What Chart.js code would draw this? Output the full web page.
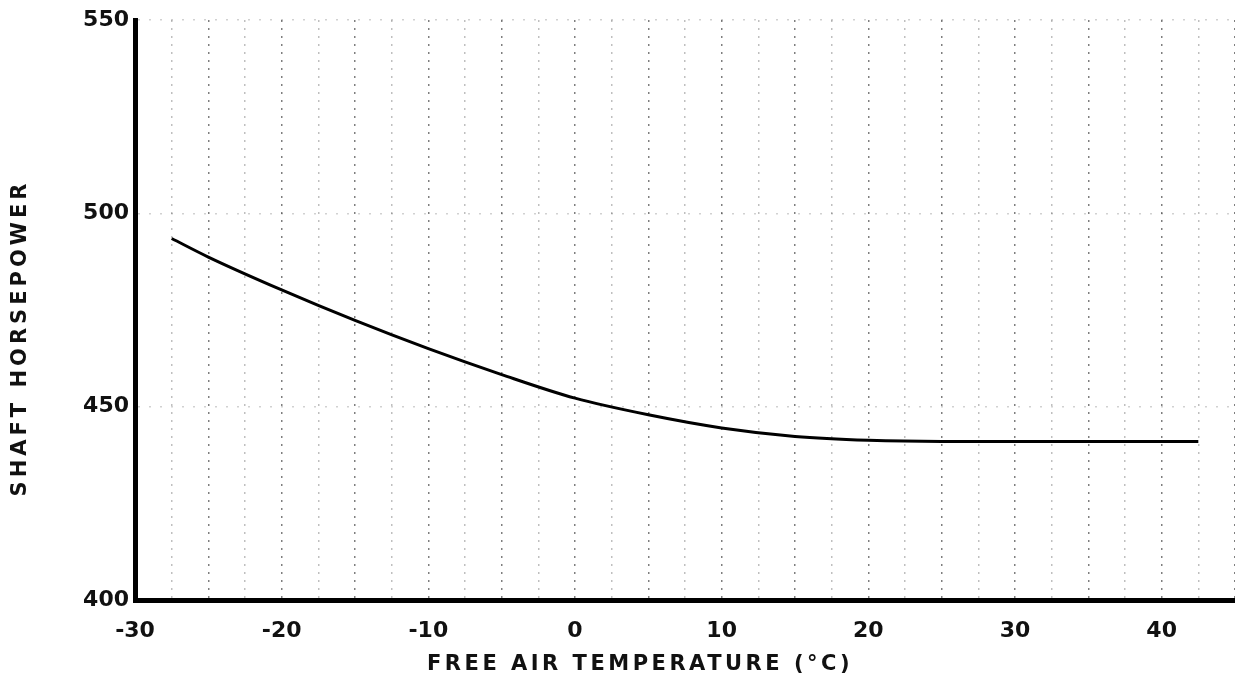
<!DOCTYPE html>
<html>
<head>
<meta charset="utf-8">
<script src="https://cdn.jsdelivr.net/npm/chart.js@4"></script>
<style>
  html, body { margin: 0; padding: 0; background: #fff; }
</style>
</head>
<body>
<canvas id="shpChart" width="1235" height="690"></canvas>
<script>
// shaft horsepower against free air temperature
const temps = [-27.5, -25, -20, -15, -10, -5, 0, 5, 10, 15, 20, 25, 30, 35, 42.5];
const shp = [493.5, 488.7, 480.2, 472.3, 465, 458.3, 452.2, 447.9, 444.5, 442.3, 441.3, 441, 441, 441, 441];
const xTickLabels = [-30, -20, -10, 0, 10, 20, 30, 40];
const yTickLabels = [400, 450, 500, 550];
const xTitle = "FREE AIR TEMPERATURE (°C)";
const yTitle = "SHAFT HORSEPOWER";

const points = temps.map((t, i) => ({ x: t, y: shp[i] }));
const inkFont = { family: "'DejaVu Sans', sans-serif", weight: "bold", size: 22 };

// axis titles drawn by hand so they get the wide lettering of the sheet
const titlePlugin = {
  id: "handTitles",
  afterDraw(chart) {
    const ctx = chart.ctx;
    ctx.save();
    ctx.font = "bold 21px 'DejaVu Sans', sans-serif";
    ctx.letterSpacing = "3.5px";
    ctx.fillStyle = "#111";
    ctx.textAlign = "center";
    ctx.textBaseline = "middle";
    ctx.fillText(xTitle, 640, 665);
    ctx.letterSpacing = "4px";
    ctx.translate(21, 338);
    ctx.rotate(-Math.PI / 2);
    ctx.fillText(yTitle, 0, 0);
    ctx.restore();
  }
};

const ctx = document.getElementById("shpChart").getContext("2d");
const shpChart = new Chart(ctx, {
  type: "line",
  data: {
    datasets: [
      {
        label: "Shaft horsepower",
        data: points,
        borderColor: "#000",
        borderWidth: 3,
        pointRadius: 0,
        fill: false,
        cubicInterpolationMode: "monotone"
      }
    ]
  },
  options: {
    responsive: false,
    animation: false,
    layout: { padding: { top: 20, right: 0, left: 0, bottom: 0 } },
    plugins: {
      legend: { display: false },
      tooltip: { enabled: false }
    },
    scales: {
      x: {
        type: "linear",
        min: -30,
        max: 45,
        afterFit: (scale) => {
          scale.height = 90;
          scale.paddingLeft = 0;
          scale.paddingRight = 0;
        },
        afterBuildTicks: (scale) => {
          const ticks = [];
          for (let v = -30; v <= 45; v += 2.5) ticks.push({ value: v });
          scale.ticks = ticks;
        },
        border: { display: true, color: "#000", width: 5, dash: [2, 6] },
        grid: {
          drawTicks: false,
          color: (c) => (c.tick && c.tick.value % 5 === 0 ? "rgba(0,0,0,0.5)" : "rgba(0,0,0,0.25)"),
          lineWidth: 1.5
        },
        ticks: {
          autoSkip: false,
          maxRotation: 0,
          padding: 18,
          color: "#111",
          font: inkFont,
          callback: (v) => (xTickLabels.includes(v) ? String(v) : "")
        }
      },
      y: {
        min: 400,
        max: 550,
        afterFit: (scale) => { scale.width = 135; },
        afterBuildTicks: (scale) => {
          scale.ticks = yTickLabels.map((v) => ({ value: v }));
        },
        border: { display: true, color: "#000", width: 5, dash: [2, 9] },
        grid: {
          drawTicks: false,
          color: "rgba(0,0,0,0.18)",
          lineWidth: 1.5
        },
        ticks: {
          padding: 6,
          color: "#111",
          font: inkFont
        }
      }
    }
  },
  plugins: [titlePlugin]
});
</script>
</body>
</html>
